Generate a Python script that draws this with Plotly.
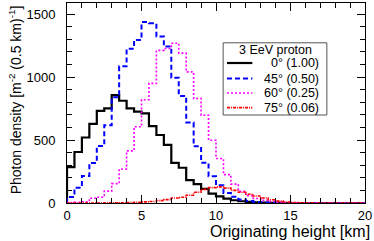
import plotly.graph_objects as go

# Bin edges of the histograms (0.5 km bins from 0 to 20 km)
bin_lo_km = [i * 0.5 for i in range(40)]
x_max_km = 20.0

# Photon density per 0.5 km bin
dens_0deg = [285, 405, 520, 628, 732, 752, 857, 812, 752, 725, 712, 610, 540, 462, 318, 280,
             182, 150, 112, 75, 52, 35, 22, 14, 9, 5, 3, 2, 1, 0,
             0, 0, 0, 0, 0, 0, 0, 0, 0, 0]
dens_45deg = [48, 122, 215, 318, 453, 617, 840, 1085, 1225, 1295, 1437, 1428, 1322, 1242, 995, 850,
              640, 450, 320, 212, 140, 80, 50, 28, 15, 8, 4, 2, 1, 0,
              0, 0, 0, 0, 0, 0, 0, 0, 0, 0]
dens_60deg = [4, 5, 10, 38, 46, 94, 154, 270, 414, 605, 820, 950, 1212, 1227, 1268, 1190,
              1041, 830, 697, 498, 353, 225, 150, 92, 58, 36, 22, 13, 7, 4,
              2, 1, 0, 0, 0, 0, 0, 0, 0, 0]
dens_75deg = [0, 0, 0, 0, 0, 1, 1, 2, 4, 6, 9, 12, 19, 27, 40, 46,
              62, 85, 108, 122, 128, 118, 100, 85, 70, 55, 40, 26, 15, 8,
              4, 2, 1, 0, 0, 0, 0, 0, 0, 0]

series_labels = ["\u00a0\u00a00\u00b0 (1.00)", "45\u00b0 (0.50)", "60\u00b0 (0.25)", "75\u00b0 (0.06)"]
legend_title = "3 EeV proton"
x_title = "Originating height [km]"
y_title = "Photon density [m<sup>-2</sup> (0.5 km)<sup>-1</sup>]"

styles = [
    dict(color="#000000", width=2.2, dash="solid"),
    dict(color="#0000ff", width=2.0, dash="5px,3px"),
    dict(color="#ff00ff", width=1.6, dash="2px,2px"),
    dict(color="#ff0000", width=1.6, dash="3px,1px,1px,1px"),
]

FONT = "Liberation Sans, Arial, Helvetica, sans-serif"

fig = go.Figure()
for vals, st, lab in zip([dens_0deg, dens_45deg, dens_60deg, dens_75deg], styles, series_labels):
    xs = [bin_lo_km[0]] + bin_lo_km + [x_max_km]
    ys = [0] + vals + [vals[-1]]
    fig.add_trace(go.Scatter(x=xs, y=ys, mode="lines", line=dict(shape="hv", **st),
                             name=lab, showlegend=False, hoverinfo="skip"))

# ---- custom ROOT-style legend ----
L, R, T, B = 0.524, 0.872, 0.801, 0.44
fig.add_shape(type="rect", xref="paper", yref="paper", x0=L, x1=R, y0=B, y1=T,
              line=dict(color="#555555", width=1), fillcolor="white", layer="below")
fig.add_annotation(xref="paper", yref="paper", x=(L + R) / 2, y=0.763, text=legend_title,
                   showarrow=False, font=dict(family=FONT, size=12.5, color="black"),
                   xanchor="center", yanchor="middle")
row_y = [0.70, 0.622, 0.55, 0.477]
for st, lab, yy in zip(styles, series_labels, row_y):
    fig.add_shape(type="line", xref="paper", yref="paper", x0=0.537, x1=0.622, y0=yy, y1=yy,
                  line=dict(color=st["color"], width=st["width"], dash=st["dash"]))
    fig.add_annotation(xref="paper", yref="paper", x=0.851, y=yy, text=lab, showarrow=False,
                       font=dict(family=FONT, size=12.5, color="black"),
                       xanchor="right", yanchor="middle")

# axis titles
fig.add_annotation(xref="paper", yref="paper", x=1.025, y=-0.14, text=x_title, showarrow=False,
                   font=dict(family=FONT, size=16, color="black"), xanchor="right", yanchor="middle")
fig.add_annotation(xref="paper", yref="paper", x=-0.175, y=1.0, text=y_title, showarrow=False,
                   textangle=-90, font=dict(family=FONT, size=14, color="black"),
                   xanchor="center", yanchor="top")

axis_common = dict(showline=True, linecolor="black", linewidth=1, mirror="allticks",
                   ticks="inside", tickcolor="black", tickwidth=1, ticklen=8,
                   showgrid=False, zeroline=False,
                   tickfont=dict(family=FONT, size=13, color="black"))

fig.update_xaxes(range=[0, 20], tick0=0, dtick=5, ticklabelstandoff=0,
                 minor=dict(ticks="inside", dtick=1, ticklen=5, tickcolor="black", showgrid=False),
                 **axis_common)
fig.update_yaxes(range=[0, 1588], tick0=0, dtick=500, ticklabelstandoff=8,
                 minor=dict(ticks="inside", dtick=100, ticklen=5, tickcolor="black", showgrid=False),
                 **axis_common)

fig.update_layout(width=374, height=241, margin=dict(l=67, r=9, t=3, b=38),
                  paper_bgcolor="white", plot_bgcolor="white",
                  font=dict(family=FONT, color="black"), showlegend=False)

fig.write_html("out.html", config={"displayModeBar": False})

# remove the browser's default page margin so the figure sits at the window's corner
with open("out.html", "r", encoding="utf-8") as fh:
    html = fh.read()
html = html.replace("<head>", "<head><style>html,body{margin:0;padding:0;overflow:hidden}</style>", 1)
with open("out.html", "w", encoding="utf-8") as fh:
    fh.write(html)
